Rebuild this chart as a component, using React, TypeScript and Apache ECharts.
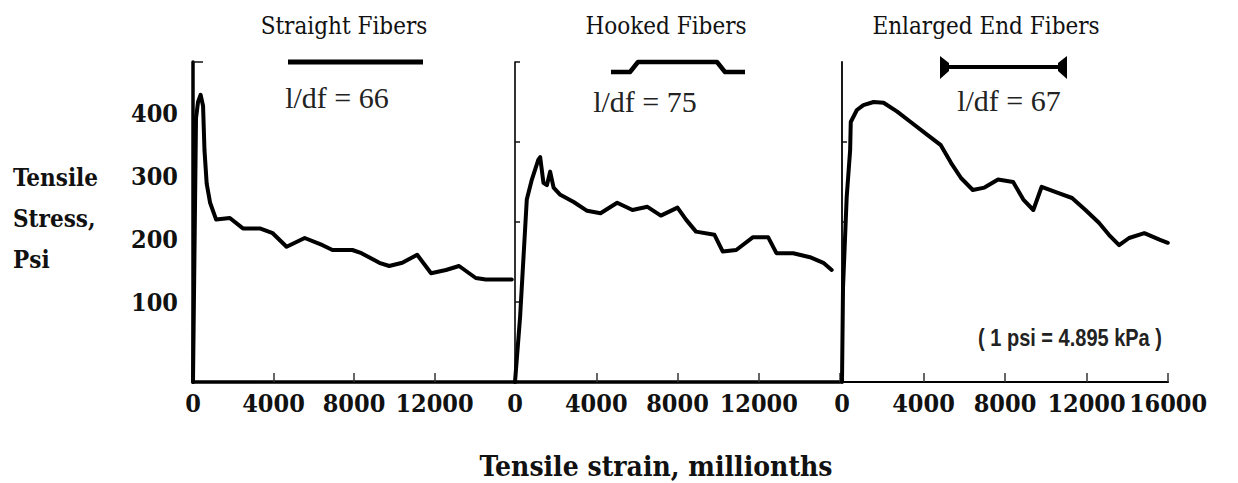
import React, { useEffect, useRef } from "react";
import * as echarts from "echarts";

// Panel headings and fibre aspect ratios
const panelTitles = ["Straight Fibers", "Hooked Fibers", "Enlarged End Fibers"];
const aspectLabels = ["l/df = 66", "l/df = 75", "l/df = 67"];

// Axis ticks
const strainTicks = [0, 4000, 8000, 12000, 16000];
const stressTicks = [100, 200, 300, 400];

// Straight fibres: strain (millionths) vs tensile stress (psi)
const straightStrain = [0, 150, 250, 380, 500, 570, 680, 850, 1150, 1830, 2480, 3320, 3960, 4650, 5550, 6440, 6930, 7920, 8370, 9260, 9750, 10400, 11140, 11830, 12570, 13220, 14050, 14550, 15840];
const straightStress = [0, 330, 350, 359, 345, 290, 248, 224, 203, 205, 192, 192, 186, 169, 180, 171, 165, 165, 161, 149, 145, 149, 159, 136, 140, 145, 130, 128, 128];

// Hooked fibres
const hookedStrain = [0, 250, 580, 830, 1150, 1240, 1400, 1570, 1730, 1900, 2230, 2890, 3550, 4210, 5030, 5780, 6520, 7180, 8000, 8420, 8910, 9820, 10230, 10890, 11720, 12460, 12870, 13700, 14520, 15180, 15590];
const hookedStress = [0, 81, 228, 253, 278, 281, 249, 246, 263, 243, 234, 225, 214, 211, 224, 215, 219, 208, 218, 203, 188, 184, 163, 165, 181, 181, 161, 161, 156, 149, 140];

// Enlarged-end fibres
const enlargedStrain = [0, 50, 230, 400, 430, 730, 1050, 1550, 2040, 2710, 3370, 4190, 4850, 5350, 5840, 6420, 6990, 7660, 8400, 8900, 9390, 9800, 10630, 11290, 11950, 12610, 13100, 13600, 14090, 14840, 15580, 15990];
const enlargedStress = [0, 118, 231, 290, 325, 340, 346, 350, 349, 338, 325, 309, 296, 274, 255, 240, 243, 253, 250, 228, 215, 244, 236, 230, 215, 199, 184, 171, 180, 186, 178, 174];

const SERIF_BOLD = '"DejaVu Serif Condensed", "DejaVu Serif", serif';
const SERIF = '"DejaVu Serif Condensed", "DejaVu Serif", serif';
const TIMES = '"Liberation Serif", "DejaVu Serif", serif';
const NARROW = '"Liberation Sans Narrow", "Liberation Sans", sans-serif';
const INK = "#111";

const curves = [
  { strain: straightStrain, stress: straightStress },
  { strain: hookedStrain, stress: hookedStress },
  { strain: enlargedStrain, stress: enlargedStress },
];

// Layout of the three side-by-side panels
const panelLayout = [
  { left: 193, width: 322, xLineWidth: 3.5, yLineWidth: 3.5, yTickValues: [400], yTickLength: 10, titleX: 339 },
  { left: 515, width: 325, xLineWidth: 3.5, yLineWidth: 1.6, yTickValues: [100, 200, 300, 400], yTickLength: 5, titleX: 661 },
  { left: 842, width: 326, xLineWidth: 2.2, yLineWidth: 1.8, yTickValues: [200, 300], yTickLength: 5, titleX: 981 },
];

export default function App() {
  const ref = useRef<HTMLDivElement>(null);

  useEffect(() => {
    if (!ref.current) return;
    const chart = echarts.init(ref.current, undefined, { renderer: "svg" });

    const grids: any[] = panelLayout.map((p) => ({
      left: p.left,
      top: 62,
      width: p.width,
      height: 320,
      containLabel: false,
      outerBoundsMode: "none",
    }));
    // column that carries the stress labels
    grids.push({ left: 193, top: 113, width: 1, height: 252, containLabel: false, outerBoundsMode: "none" });

    const xAxes: any[] = panelLayout.map((p, i) => ({
      type: "value",
      gridIndex: i,
      min: strainTicks[0],
      max: strainTicks[strainTicks.length - 1],
      interval: 4000,
      axisLine: { show: true, onZero: false, lineStyle: { color: "#000", width: p.xLineWidth } },
      axisTick: { show: true, inside: true, length: 9, lineStyle: { color: "#333", width: 1.5 } },
      splitLine: { show: false },
      axisLabel: {
        show: true,
        margin: 9,
        color: INK,
        fontFamily: SERIF_BOLD,
        fontWeight: "bold",
        fontSize: 25,
        formatter: (v: number) => (i < 2 && v === 16000 ? "" : String(v)),
      },
    }));
    xAxes.push({ type: "value", gridIndex: 3, show: false, min: 0, max: 1 });

    const yAxes: any[] = panelLayout.map((p, i) => ({
      type: "value",
      gridIndex: i,
      min: 0,
      max: 400,
      interval: 100,
      axisLine: { show: true, onZero: false, lineStyle: { color: "#000", width: p.yLineWidth } },
      axisTick: {
        show: true,
        inside: true,
        length: p.yTickLength,
        customValues: p.yTickValues,
        lineStyle: { color: "#111", width: 1.5 },
      },
      axisLabel: { show: false },
      splitLine: { show: false },
    }));
    yAxes.push({
      type: "value",
      gridIndex: 3,
      min: 0,
      max: 400,
      interval: 100,
      axisLine: { show: false },
      axisTick: { show: false },
      splitLine: { show: false },
      axisLabel: {
        show: true,
        customValues: stressTicks,
        margin: 15,
        color: INK,
        fontFamily: SERIF_BOLD,
        fontWeight: "bold",
        fontSize: 25,
      },
    });

    const series = curves.map((c, i) => ({
      type: "line",
      xAxisIndex: i,
      yAxisIndex: i,
      data: c.strain.map((s, k) => [s, c.stress[k]]),
      showSymbol: false,
      symbol: "none",
      smooth: false,
      lineStyle: { color: "#000", width: 4, join: "round", cap: "round" },
      z: 3,
    }));

    const iconStyle = { stroke: "#000", lineWidth: 4.5, fill: "none", lineJoin: "round" };

    const graphic: any[] = [
      // fibre shapes
      { type: "line", shape: { x1: 288, y1: 62, x2: 423, y2: 62 }, style: { ...iconStyle, lineWidth: 5 } },
      {
        type: "polyline",
        shape: { points: [[611, 72], [630, 72], [638, 62], [717, 62], [725, 72], [745, 72]] },
        style: iconStyle,
      },
      { type: "line", shape: { x1: 946, y1: 67, x2: 1060, y2: 67 }, style: { ...iconStyle, lineWidth: 4 } },
      { type: "polygon", shape: { points: [[940, 56], [949, 63], [949, 71], [940, 79]] }, style: { fill: "#000" } },
      { type: "polygon", shape: { points: [[1067, 56], [1058, 63], [1058, 71], [1067, 79]] }, style: { fill: "#000" } },
      // aspect ratio captions
      ...aspectLabels.map((t, i) => ({
        type: "text",
        x: [337, 645, 1009][i],
        y: [97, 101, 100][i],
        style: {
          text: t,
          fill: "#222",
          font: `30px ${TIMES}`,
          textAlign: "center",
          textVerticalAlign: "middle",
          align: "center",
          verticalAlign: "middle",
        },
      })),
      // stress axis name
      {
        type: "text",
        x: 13,
        y: 157,
        style: {
          text: "Tensile\nStress,\nPsi",
          fill: INK,
          font: `bold 24px ${SERIF_BOLD}`,
          lineHeight: 41,
          textAlign: "left",
          textVerticalAlign: "top",
          align: "left",
          verticalAlign: "top",
        },
      },
      // strain axis name
      {
        type: "text",
        x: 656,
        y: 466,
        style: {
          text: "Tensile strain, millionths",
          fill: INK,
          font: `bold 28px ${SERIF_BOLD}`,
          textAlign: "center",
          textVerticalAlign: "middle",
          align: "center",
          verticalAlign: "middle",
        },
      },
      // unit note
      {
        type: "text",
        x: 1070,
        y: 338,
        scaleY: 1.2,
        style: {
          text: "( 1 psi = 4.895 kPa )",
          fill: "#222",
          font: `bold 20px ${NARROW}`,
          textAlign: "center",
          textVerticalAlign: "middle",
          align: "center",
          verticalAlign: "middle",
        },
      },
    ];

    chart.setOption({
      animation: false,
      backgroundColor: "#fff",
      title: panelTitles.map((t, i) => ({
        text: t,
        left: panelLayout[i].titleX,
        top: 9,
        textAlign: "center",
        textStyle: { fontFamily: SERIF, fontWeight: "normal", fontSize: 24, color: INK },
      })),
      grid: grids,
      xAxis: xAxes,
      yAxis: yAxes,
      series,
      graphic,
    });

    return () => chart.dispose();
  }, []);

  return (
    <div
      ref={ref}
      style={{ position: "absolute", left: 0, top: 0, width: 1238, height: 483, background: "#fff" }}
    />
  );
}
